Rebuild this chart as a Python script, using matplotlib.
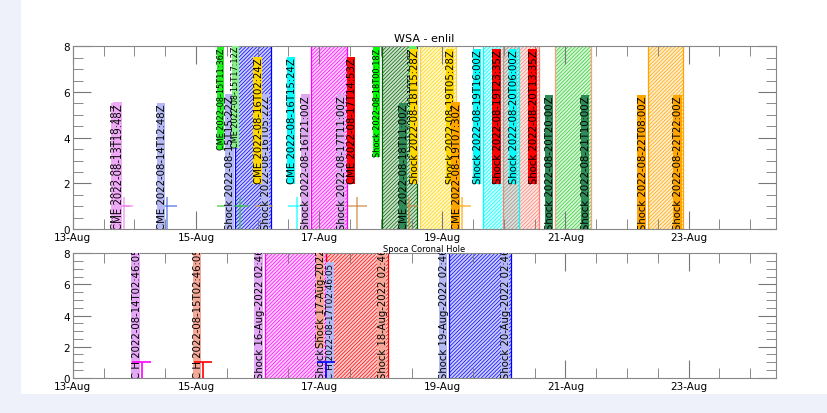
import matplotlib
matplotlib.use("Agg")
import matplotlib.pyplot as plt
import matplotlib.dates as mdates
from matplotlib.colors import to_rgba
import pandas as pd

plt.rcParams["hatch.linewidth"] = 0.5
plt.rcParams["font.size"] = 7.5

# ---- WSA - enlil : CME labels ----
cme_times = ["2022-08-13T18:48Z", "2022-08-13T19:48Z", "2022-08-14T12:48Z",
             "2022-08-15T11:36Z", "2022-08-15T17:12Z", "2022-08-16T02:24Z",
             "2022-08-16T15:24Z", "2022-08-17T14:53Z", "2022-08-18T11:00Z",
             "2022-08-19T07:30Z"]
cme_box_colors = ["#eeaaf4", "#eeaaf4", "#b4b8f4", "#22ee22", "#88f088",
                  "gold", "cyan", "red", "seagreen", "orange"]
cme_cross_colors = ["violet", "violet", "royalblue", "limegreen", "limegreen",
                    "goldenrod", "cyan", "peru", "peru", "orange"]
cme_label_y = [0, 0, 0, 3.5, 3.6, 2, 2, 2, 0, 0]
cme_font = [7.3, 7.3, 7.3, 5.9, 5.9, 7.3, 7.3, 7.3, 7.3, 7.3]

# ---- WSA - enlil : shock windows ----
shock_start = ["2022-08-15T15:22Z", "2022-08-16T21:00Z", "2022-08-18T00:18Z",
               "2022-08-18T15:28Z", "2022-08-19T16:00Z", "2022-08-19T23:35Z",
               "2022-08-20T20:00Z", "2022-08-22T08:00Z"]
shock_end = ["2022-08-16T05:22Z", "2022-08-17T11:00Z", "2022-08-18T14:18Z",
             "2022-08-19T05:28Z", "2022-08-20T06:00Z", "2022-08-20T13:35Z",
             "2022-08-21T10:00Z", "2022-08-22T22:00Z"]
shock_colors = ["blue", "magenta", "darkgreen", "gold", "cyan", "salmon",
                "limegreen", "orange"]
shock_edge_colors = ["blue", "magenta", "darkgreen", "#f0d060", "cyan",
                     "salmon", "lightsalmon", "orange"]
shock_box_start = ["#b4b8f4", "#dda8f0", "lime", "gold", "cyan", "red",
                   "seagreen", "orange"]
shock_box_end = ["#b4b8f4", "#dda8f0", "#66ee66", "gold", "cyan", "red",
                 "seagreen", "orange"]
shock_label_y = [0, 0, 3.2, 2, 2, 2, 0, 0]
shock_font = [7.3, 7.3, 5.9, 7.3, 7.3, 7.3, 7.3, 7.3]

# ---- Spoca Coronal Hole ----
ch_times = ["2022-08-14T02:46:05", "2022-08-15T02:46:05", "2022-08-17T02:46:05"]
ch_colors = ["magenta", "red", "blue"]
ch_box_colors = ["#e4a8f6", "#f6a898", "#b4b8f4"]
ch_ha = ["right", "right", "left"]
ch_font = [7.3, 7.3, 6.4]
ch_shock_start = ["16-Aug-2022 02:46:05", "17-Aug-2022 02:46:05", "19-Aug-2022 02:46:05"]
ch_shock_end = ["17-Aug-2022 02:46:05", "18-Aug-2022 02:46:05", "20-Aug-2022 02:46:05"]
ch_start_y = [0, 2, 0]

xmin = pd.Timestamp("2022-08-13 00:00")
xmax = pd.Timestamp("2022-08-24 10:00")
half = pd.Timedelta(hours=3.6)

labels = []  # (axes, text, box colour, font size, zorder)


def label(ax, t, y, text, color, size=7.3, ha="right"):
    z = 4 + len(labels) * 0.01
    txt = ax.text(t, y, text, rotation=90, ha=ha, va="bottom", fontsize=size,
                  color="black", clip_on=True, zorder=z + 0.005)
    labels.append((ax, txt, color, size, z))


def window(ax, t0, t1, color, edge):
    ax.axvspan(t0, t1, facecolor=to_rgba(color, 0.2), edgecolor=color,
               hatch="/" * 9, lw=0, zorder=1)
    ax.axvline(t0, color=edge, lw=0.9, zorder=2)
    ax.axvline(t1, color=edge, lw=0.9, zorder=2)


def style(ax):
    ax.set_xlim(xmin, xmax)
    ax.set_ylim(0, 8)
    ax.xaxis.set_major_locator(mdates.DayLocator(interval=2))
    ax.xaxis.set_minor_locator(mdates.HourLocator(byhour=[0, 12]))
    ax.xaxis.set_major_formatter(mdates.DateFormatter("%d-%b"))
    ax.yaxis.set_major_locator(plt.MultipleLocator(2))
    ax.yaxis.set_minor_locator(plt.MultipleLocator(0.5))
    ax.tick_params(which="both", direction="in", top=True, right=True,
                   colors="#777777", labelcolor="black", labelsize=7.5, pad=2)
    ax.tick_params(which="major", length=13)
    ax.tick_params(which="minor", length=7)
    for s in ax.spines.values():
        s.set_color("#888888")


fig = plt.figure(figsize=(8.28, 4.14), dpi=100, facecolor="#eef0fa")
fig.patches.append(plt.Rectangle((0.025, 0.045), 0.975, 0.955,
                                 transform=fig.transFigure, facecolor="white",
                                 edgecolor="none", zorder=-10))
ax1 = fig.add_axes([0.088, 0.444, 0.849, 0.442])
ax2 = fig.add_axes([0.088, 0.085, 0.849, 0.301])
style(ax1)
style(ax2)

# top panel
for i in range(len(shock_start)):
    t0 = pd.to_datetime(shock_start[i]).tz_localize(None)
    t1 = pd.to_datetime(shock_end[i]).tz_localize(None)
    window(ax1, t0, t1, shock_colors[i], shock_edge_colors[i])
    label(ax1, t0, shock_label_y[i], "Shock " + shock_start[i],
          shock_box_start[i], shock_font[i])
    label(ax1, t1, shock_label_y[i], "Shock " + shock_end[i],
          shock_box_end[i], shock_font[i])

for i in range(len(cme_times)):
    t = pd.to_datetime(cme_times[i]).tz_localize(None)
    ax1.hlines(1, t - half, t + half, color=cme_cross_colors[i], lw=1.4,
               alpha=0.6, zorder=3)
    ax1.vlines(t, 0, 1.4, color=cme_cross_colors[i], lw=1.4, alpha=0.6, zorder=3)
    label(ax1, t, cme_label_y[i], "CME " + cme_times[i], cme_box_colors[i],
          cme_font[i])

ax1.set_title("WSA - enlil", fontsize=8, pad=4)

# bottom panel
for i in range(len(ch_times)):
    t0 = pd.to_datetime(ch_shock_start[i], format="%d-%b-%Y %H:%M:%S")
    t1 = pd.to_datetime(ch_shock_end[i], format="%d-%b-%Y %H:%M:%S")
    window(ax2, t0, t1, ch_colors[i], ch_colors[i])
    label(ax2, t1, 0, "Shock " + ch_shock_end[i], ch_box_colors[i])
for i in range(len(ch_times)):
    t0 = pd.to_datetime(ch_shock_start[i], format="%d-%b-%Y %H:%M:%S")
    label(ax2, t0, ch_start_y[i], "Shock " + ch_shock_start[i], ch_box_colors[i])
for i in range(len(ch_times)):
    t = pd.to_datetime(ch_times[i])
    ax2.hlines(1, t - half, t + half, color=ch_colors[i], lw=1.2, zorder=5)
    ax2.vlines(t, 0, 1, color=ch_colors[i], lw=1.2, zorder=5)
    label(ax2, t, 0, "C H " + ch_times[i], ch_box_colors[i], ch_font[i], ch_ha[i])

ax2.set_title("Spoca Coronal Hole", fontsize=6, pad=1)

# tight coloured boxes behind the rotated labels (only as wide as the glyphs)
fig.canvas.draw()
renderer = fig.canvas.get_renderer()
for ax, txt, color, size, z in labels:
    bb = txt.get_window_extent(renderer)
    em = size * fig.dpi / 72.0
    base = bb.x1 - 0.24 * em
    px0, px1 = base - 0.78 * em, base + 0.05 * em
    inv = ax.transData.inverted()
    (x0, y0) = inv.transform((px0, bb.y0 - 1))
    (x1, y1) = inv.transform((px1, bb.y1 + 1))
    ax.add_patch(plt.Rectangle((x0, y0), x1 - x0, y1 - y0, facecolor=color,
                               edgecolor="none", zorder=z))

fig.savefig("out.png", dpi=100, facecolor=fig.get_facecolor())
